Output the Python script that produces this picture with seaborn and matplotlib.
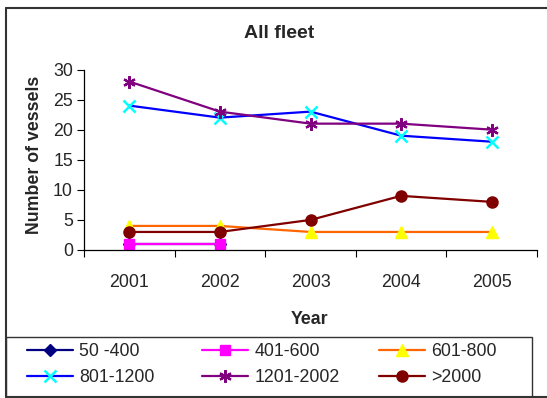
import matplotlib
matplotlib.use("Agg")
import matplotlib.pyplot as plt
from matplotlib.lines import Line2D
from matplotlib.patches import Rectangle
import numpy as np
import pandas as pd
import seaborn as sns

years = ["2001", "2002", "2003", "2004", "2005"]
s_50_400 = [1, 1, None, None, None]
s_401_600 = [1, 1, None, None, None]
s_601_800 = [4, 4, 3, 3, 3]
s_801_1200 = [24, 22, 23, 19, 18]
s_1201_2002 = [28, 23, 21, 21, 20]
s_gt2000 = [3, 3, 5, 9, 8]

series_names = ["50 -400", "401-600", "601-800", "801-1200", "1201-2002", ">2000"]
series_values = [s_50_400, s_401_600, s_601_800, s_801_1200, s_1201_2002, s_gt2000]
yticks = [0, 5, 10, 15, 20, 25, 30]

styles = {
    "50 -400": dict(color="#000080", marker="D", mfc="#000080", mec="#000080", ms=6),
    "401-600": dict(color="#FF00FF", marker="s", mfc="#FF00FF", mec="#FF00FF", ms=7),
    "601-800": dict(color="#FF6600", marker="^", mfc="#FFFF00", mec="#FFFF00", ms=9),
    "801-1200": dict(color="#0000FF", marker="x", mfc="#00FFFF", mec="#00FFFF", ms=8, mew=1.8),
    "1201-2002": dict(color="#800080", marker=(6, 2, 0), mfc="#800080", mec="#800080", ms=9, mew=1.6),
    ">2000": dict(color="#800000", marker="o", mfc="#800000", mec="#800000", ms=8),
}

sns.set_theme(style="white")
plt.rcParams['font.family'] = ['Liberation Sans', 'DejaVu Sans']
FS = 12.8

fig = plt.figure(figsize=(5.47, 3.98), dpi=100)
fig.patch.set_facecolor("white")
W, H = 547.0, 398.0
ax = fig.add_axes([84 / W, 1 - 250 / H, (537 - 84) / W, (250 - 69.5) / H])

handles = {}
for name, vals in zip(series_names, series_values):
    df = pd.DataFrame({"Year": years, "v": vals}).dropna()
    st = styles[name]
    kw = dict(marker=st["marker"], markerfacecolor=st["mfc"], markeredgecolor=st["mec"],
              markersize=st["ms"], markeredgewidth=st.get("mew", 1.0))
    xs = [years.index(y) for y in df["Year"]]
    sns.lineplot(x=xs, y=df["v"].astype(float).values, ax=ax, color=st["color"], linewidth=1.6,
                 legend=False, **kw)
    handles[name] = Line2D([], [], color=st["color"], linewidth=1.6, **kw)

ax.set_xlim(-0.5, 4.5)
ax.set_ylim(0, 30)
ax.set_yticks(yticks)
ax.set_yticklabels([str(t) for t in yticks], fontsize=FS)
ax.set_xticks(range(len(years)))
ax.set_xticklabels(years, fontsize=FS)
ax.set_xticks(np.arange(-0.5, 5.0, 1.0), minor=True)
ax.tick_params(axis="x", which="major", length=0, pad=17)
ax.tick_params(axis="x", which="minor", length=5, width=0.8, color="black", direction="out", bottom=True)
ax.tick_params(axis="y", which="major", length=5, width=0.8, color="black", direction="out", left=True, pad=3)
for sp in ["top", "right"]:
    ax.spines[sp].set_visible(False)
for sp in ["left", "bottom"]:
    ax.spines[sp].set_color("black")
    ax.spines[sp].set_linewidth(0.9)
ax.set_xlabel("")
ax.set_ylabel("")
ax.grid(False)

fig.text(279 / W, 1 - 33 / H, "All fleet", ha="center", va="center", fontsize=14, fontweight="bold")
fig.text(35 / W, 1 - 155 / H, "Number of vessels", ha="center", va="center", rotation=90,
         fontsize=FS, fontweight="bold")
fig.text(310 / W, 1 - 320 / H, "Year", ha="center", va="center", fontsize=FS, fontweight="bold")

# legend: three columns, placed individually
col_x = [27, 202, 379]
columns = [["50 -400", "801-1200"], ["401-600", "1201-2002"], ["601-800", ">2000"]]
for cx, names in zip(col_x, columns):
    fig.legend([handles[n] for n in names], names, loc="upper left",
               bbox_to_anchor=(cx / W, 1 - 343 / H), borderaxespad=0, borderpad=0,
               frameon=False, fontsize=FS, handlelength=2.6, handletextpad=0.35,
               labelspacing=0.5)

fig.add_artist(Rectangle((6 / W, 1 - 397 / H), (532 - 6) / W, (397 - 337) / H,
                         transform=fig.transFigure, fill=False, edgecolor="#333333",
                         linewidth=1.0, clip_on=False))

border_kw = dict(color="#333333", linewidth=1.5, transform=fig.transFigure, clip_on=False)
fig.add_artist(Line2D([6 / W, 6 / W], [1 - 7.5 / H, 1 - 397 / H], **border_kw))
fig.add_artist(Line2D([6 / W, 1.0], [1 - 7.5 / H, 1 - 7.5 / H], **border_kw))
fig.add_artist(Line2D([6 / W, 1.0], [1 - 397 / H, 1 - 397 / H], **border_kw))

fig.savefig("out.png", dpi=100, facecolor="white")
